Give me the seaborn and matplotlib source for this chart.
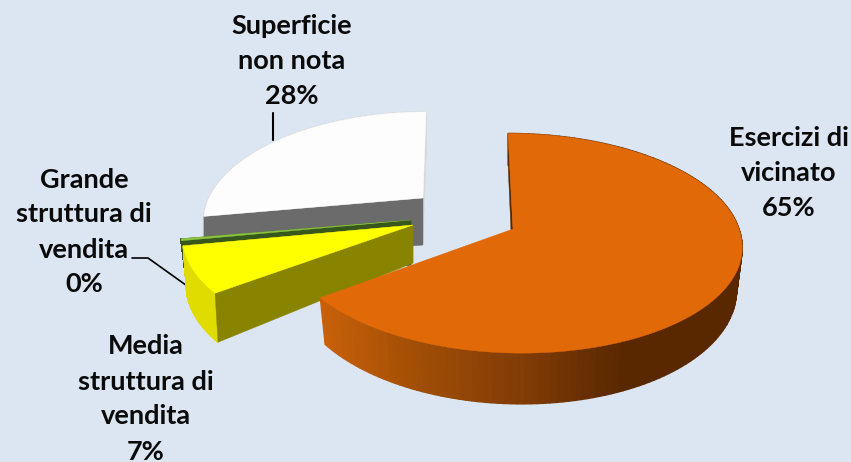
import numpy as np
import matplotlib
matplotlib.use("Agg")
import matplotlib.pyplot as plt
import seaborn as sns

names = ["Esercizi di\nvicinato", "Media\nstruttura di\nvendita", "Grande\nstruttura di\nvendita", "Superficie\nnon nota"]
shares = [65.0, 7.0, 0.3, 27.7]

top_colors = ["#E16908", "#FFFF00", "#8CC63F", "#FDFDFD"]
face_colors = ["#5A2800", "#888400", "#37571D", "#6B6B6B"]
rim_colors = ["#5A2800", "#E0DC00", "#3F5A2A", "#D8D8D8"]

# geometry of each exploded slice, in pixels of the picture
geom = [
    dict(ax=513, ay=229, rx=226, ry=108, k=0.13, lean=-5, leanb=9, T=41, Tc=6, Ta=49, sbx=0.975, sby=1.03),
    dict(ax=413, ay=225, rx=229, ry=108.6, k=0.109, lean=0, leanb=0, T=47, Tc=0, Ta=38, sbx=0.985, sby=1.03),
    dict(ax=411, ay=220, rx=229, ry=108.6, k=0.109, lean=0, leanb=0, T=45, Tc=0, Ta=45, sbx=0.975, sby=1.0),
    dict(ax=423, ay=198, rx=214, ry=105, k=0.22, lean=3, leanb=0, T=47, Tc=0, Ta=47, sbx=1.0, sby=1.0),
]

sns.set_theme(style="white")
plt.rcParams["font.family"] = ["Lato", "DejaVu Sans"]

fig, ax = plt.subplots(figsize=(8.51, 4.62), dpi=100)
fig.patch.set_facecolor("#DCE6F2")
ax.set_position([0, 0, 1, 1])
ax.set_xlim(0, 851)
ax.set_ylim(462, 0)
ax.axis("off")


def top_pt(t, g):
    w = 1 + g["k"] * np.cos(t)
    c = np.cos(t)
    dx = g["rx"] * np.sin(t) / w + g["lean"] * np.clip(c, 0, 1) + g["leanb"] * np.clip(-c, 0, 1)
    dy = -g["ry"] * c / w
    return g["ax"] + dx, g["ay"] + dy


def bot_pt(t, g):
    x, y = top_pt(t, g)
    drop = g["T"] + g["Tc"] * -np.cos(t)
    return g["ax"] + g["sbx"] * (x - g["ax"]), g["ay"] + g["sby"] * (y - g["ay"]) + drop


def poly(xs, ys, color, z, lw=0.3):
    ax.fill(xs, ys, facecolor=color, edgecolor=color, lw=lw, zorder=z)


edges = np.radians(np.concatenate([[0], np.cumsum(shares)]) * 3.6)
orange_ramp = sns.blend_palette(["#C8600A", "#A85206", "#914507", "#7A3805", "#5A2800"], n_colors=64)

# back slices first: white, green, yellow, then the big orange one
for z, i in enumerate([3, 2, 1, 0]):
    g = geom[i]
    a0, a1 = edges[i], edges[i + 1]
    ts = np.linspace(a0, a1, 160)
    base = z * 10 + 1
    apex_low = g["ay"] + g["Ta"]

    # face at the end of the slice
    if i != 0:
        col = rim_colors[i] if i == 3 else face_colors[i]
        tx, ty = top_pt(a1, g)
        bx, by = bot_pt(a1, g)
        poly([g["ax"], tx, bx, g["ax"]], [g["ay"], ty, by, apex_low], col, base)

    # outer rim
    tx, ty = top_pt(ts, g)
    bx, by = bot_pt(ts, g)
    for j in range(len(ts) - 1):
        if i == 0:
            f = np.clip((tx[j] - 320) / 300, 0, 1)
            col = orange_ramp[int(f * 63)]
        else:
            col = rim_colors[i]
        poly([tx[j], tx[j + 1], bx[j + 1], bx[j]], [ty[j], ty[j + 1], by[j + 1], by[j]], col, base + 1, lw=1.0)

    # face at the start of the slice, over the rim
    x0, y0 = top_pt(a0, g)
    x1, y1 = bot_pt(a0, g)
    poly([g["ax"], x0, x1, g["ax"]], [g["ay"], y0, y1, apex_low], face_colors[i], base + 2)

    # top surface
    poly(np.r_[g["ax"], tx], np.r_[g["ay"], ty], top_colors[i], base + 3)

# leader lines
ax.plot([273, 273], [140, 113], color="black", lw=1.5, zorder=60)
ax.plot([190, 148, 132], [288, 258, 258], color="black", lw=1.2, zorder=5)

labels = [f"{n}\n{v:.0f}%" for n, v in zip(names, shares)]
label_xy = [(789, 173), (146, 399), (84, 232), (292, 61)]
for txt, (x, y) in zip(labels, label_xy):
    ax.text(x, y, txt, ha="center", va="center", fontsize=19.5, fontweight="bold",
            color="#0A0A0A", linespacing=1.55, zorder=70)

fig.savefig("out.png", dpi=100, facecolor=fig.get_facecolor())
